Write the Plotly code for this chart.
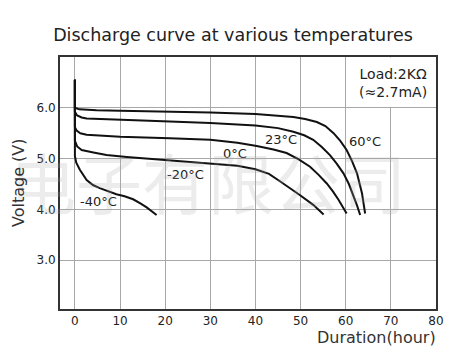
import plotly.graph_objects as go

# ---- data ----
t60 = [0, 0, 1, 4.8, 10, 20, 30, 40, 45, 48.4, 51, 53.6, 55.5, 57.3, 58.8, 60.2, 61.4, 62.5, 63.6, 64.3]
v60 = [6.55, 6.0, 5.97, 5.95, 5.94, 5.93, 5.91, 5.88, 5.85, 5.82, 5.78, 5.72, 5.64, 5.50, 5.35, 5.17, 4.95, 4.71, 4.32, 3.92]

t23 = [0, 0, 0.5, 1.5, 2.6, 10, 21, 30, 40, 45, 48.4, 50.8, 52.8, 54.7, 56.5, 58, 59.5, 60.7, 61.7, 62.5, 63.2]
v23 = [6.55, 5.92, 5.85, 5.81, 5.79, 5.76, 5.73, 5.70, 5.65, 5.60, 5.53, 5.46, 5.37, 5.23, 5.07, 4.90, 4.71, 4.50, 4.28, 4.08, 3.89]

t0 = [0, 0, 0.4, 1.2, 2.6, 10, 21, 30, 36, 40.3, 44, 46.9, 49.5, 52.1, 54, 55.8, 57.2, 58.4, 60.2]
v0 = [6.55, 5.62, 5.55, 5.50, 5.47, 5.43, 5.40, 5.37, 5.31, 5.25, 5.18, 5.11, 4.99, 4.84, 4.68, 4.51, 4.35, 4.19, 3.92]

tm20 = [0, 0, 0.5, 1.5, 4.1, 7, 11.5, 21, 30, 36, 40, 43, 45.5, 48, 49.9, 52.8, 55.1]
vm20 = [6.55, 5.35, 5.24, 5.17, 5.12, 5.07, 5.03, 4.96, 4.90, 4.86, 4.79, 4.70, 4.55, 4.40, 4.28, 4.09, 3.90]

tm40 = [0, 0, 0.3, 1.1, 2.6, 4, 5.5, 7.5, 9.2, 11, 12.9, 14.5, 15.9, 18.1]
vm40 = [6.55, 5.05, 4.92, 4.78, 4.58, 4.48, 4.42, 4.35, 4.30, 4.26, 4.20, 4.12, 4.04, 3.89]

series_t = [t60, t23, t0, tm20, tm40]
series_v = [v60, v23, v0, vm20, vm40]

labels = ["60°C", "23°C", "0°C", "-20°C", "-40°C"]
label_x = [64.3, 45.7, 35.5, 24.4, 5.3]
label_y = [5.34, 5.37, 5.11, 4.68, 4.15]

x_ticks = [0, 10, 20, 30, 40, 50, 60, 70, 80]
y_ticks = [3, 4, 5, 6]
y_ticktext = ["3.0", "4.0", "5.0", "6.0"]

title = "Discharge curve at various temperatures"
load_text = "Load:2KΩ<br>(≈2.7mA)"
watermark = "电子有限公司"

FONT = "DejaVu Sans"

# the page body has an 8px margin: the figure is offset by it
OFF = 8
W, H = 472 - OFF, 360 - OFF
PL, PR, PT, PB = 60, 436, 57, 309  # plot frame, in window pixels
PW, PH = PR - PL, PB - PT

fig = go.Figure()
for t, v in zip(series_t, series_v):
    fig.add_trace(go.Scatter(x=t, y=v, mode="lines",
                             line=dict(color="#111111", width=2),
                             showlegend=False, hoverinfo="skip"))

for lab, lx, ly in zip(labels, label_x, label_y):
    fig.add_annotation(x=lx, y=ly, text=lab, showarrow=False,
                       font=dict(family=FONT, size=13, color="#222222"))

# white cell behind the load note (hides the grid line at 70 above 6.0)
fig.add_shape(type="rect", x0=60.2, x1=79.9, y0=6.02, y1=6.99,
              fillcolor="white", line=dict(width=0), layer="between")
fig.add_annotation(x=70.5, y=6.49, text=load_text, showarrow=False,
                   font=dict(family=FONT, size=14, color="#222222"))

# watermark
fig.add_annotation(xref="paper", yref="paper", x=(208 - PL) / PW, y=(PB - 180) / PH,
                   xanchor="center", yanchor="middle",
                   text=watermark, showarrow=False,
                   font=dict(family="Noto Sans CJK SC", size=66, color="rgba(170,170,170,0.22)"))

# axis titles
fig.add_annotation(xref="paper", yref="paper", x=(18 - PL) / PW, y=0.5,
                   xanchor="center", yanchor="middle",
                   text="Voltage (V)", showarrow=False, textangle=-90,
                   font=dict(family=FONT, size=16, color="#333333"))
fig.add_annotation(xref="paper", yref="paper", x=(438 - PL) / PW, y=(PB - 337) / PH,
                   xanchor="right", yanchor="middle",
                   text="Duration(hour)", showarrow=False,
                   font=dict(family=FONT, size=16, color="#333333"))

fig.update_layout(
    width=W, height=H,
    margin=dict(l=PL - OFF, r=W - (PR - OFF), t=PT - OFF, b=H - (PB - OFF), autoexpand=False),
    paper_bgcolor="white", plot_bgcolor="white",
    title=dict(text=title, x=(233 - OFF) / W, xanchor="center", y=1 - (35 - OFF) / H, yanchor="middle",
               font=dict(family=FONT, size=17.5, color="#222222")),
    font=dict(family=FONT),
)
fig.update_xaxes(range=[-3.3, 80], tickvals=x_ticks, ticktext=[str(v) for v in x_ticks],
                 showgrid=True, gridcolor="#a8a8a8", gridwidth=1, zeroline=False,
                 showline=True, linecolor="#333333", linewidth=2, mirror=True,
                 ticks="", tickfont=dict(family=FONT, size=12, color="#222222"))
fig.update_yaxes(range=[2.04, 7.0], tickvals=y_ticks, ticktext=y_ticktext,
                 showgrid=True, gridcolor="#a8a8a8", gridwidth=1, zeroline=False,
                 showline=True, linecolor="#333333", linewidth=2, mirror=True,
                 ticks="", tickfont=dict(family=FONT, size=12, color="#222222"))

fig.write_html("out.html")
